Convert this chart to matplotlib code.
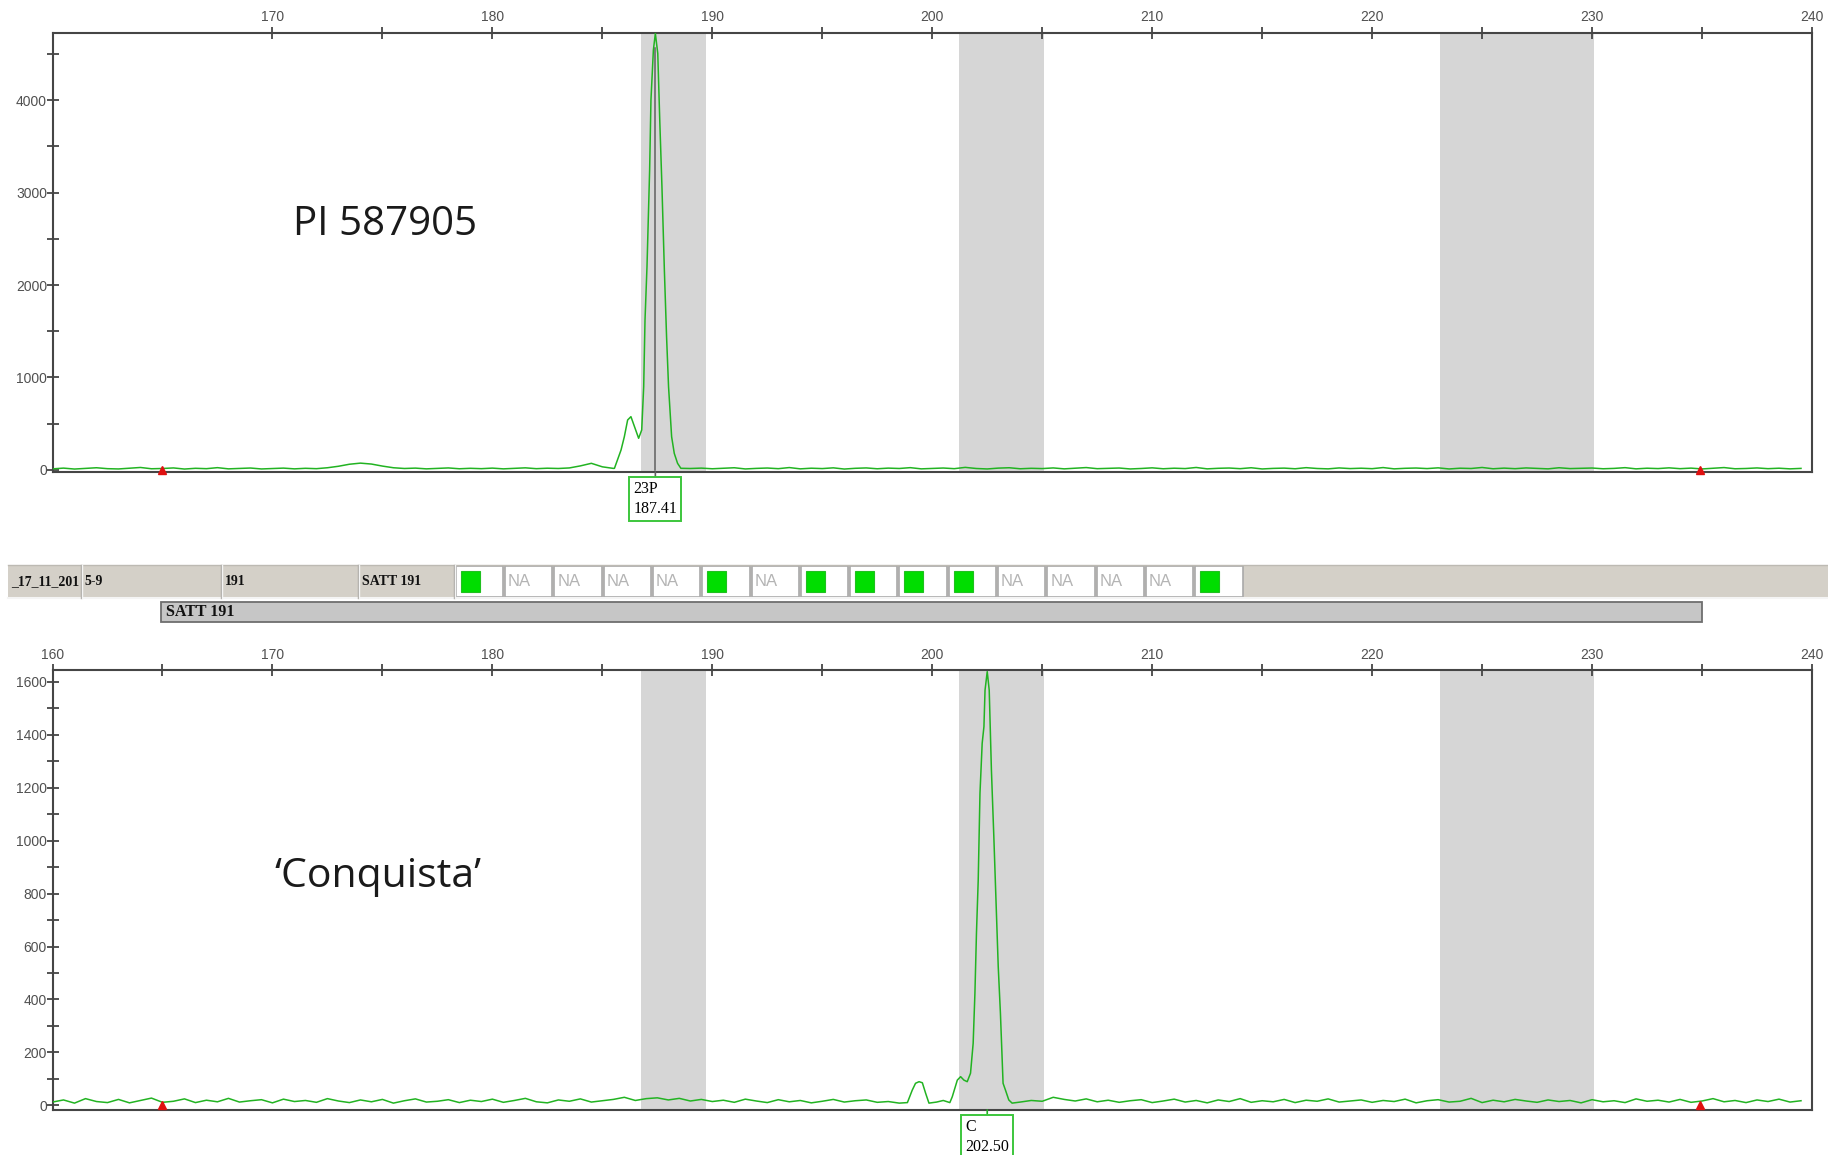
import numpy as np
import matplotlib.pyplot as plt
from matplotlib.patches import Rectangle
from matplotlib.ticker import FixedLocator, NullFormatter

nan = np.nan

# fragment size window (bp) and allele bins
x_start, x_end = 160, 240
bins = [(186.75, 189.7), (201.2, 205.1), (223.1, 230.1)]
size_std = [165.0, 234.9]

# ---- PI 587905 ----
# baseline RFU every 0.5 bp from 160 bp (nan = covered by the peak points)
top_grid_y = [
    10, 18, 8, 15, 22, 12, 9, 17, 25, 11, 14, 20, 8, 16, 12, 23, 10, 15, 19, 9,
    13, 18, 10, 16, 12, 22, 38, 60, 72, 62, 40, 22, 14, 18, 10, 15, 20, 11, 16, 12,
    18, 10, 15, 21, 12, 17, 14, 20, 42, 70, 32, 15, nan, nan, nan, nan, nan, nan, 14, 18,
    11, 16, 22, 9, 15, 19, 12, 24, 10, 17, 13, 21, 8, 16, 20, 11, 18, 14, 23, 10,
    15, 19, 12, 26, 14, 9, 18, 22, 11, 16, 13, 20, 10, 17, 24, 12, 15, 19, 9, 14,
    21, 11, 17, 13, 25, 10, 16, 19, 12, 22, 9, 15, 18, 11, 23, 14, 10, 20, 13, 17,
    12, 24, 10, 16, 19, 13, 21, 9, 17, 14, 25, 11, 18, 12, 20, 15, 10, 22, 13, 16,
    19, 11, 15, 23, 10, 17, 13, 21, 12, 18, 9, 16, 24, 11, 14, 20, 12, 17, 10, 15,
]
top_peak_x = [185.55, 185.85, 186.00, 186.15, 186.30, 186.46, 186.65, 186.79,
              186.88, 186.94, 187.03, 187.15, 187.21, 187.32, 187.41, 187.52,
              187.61, 187.71, 187.82, 187.92, 188.01, 188.15, 188.27, 188.42,
              188.57]
top_peak_y = [16, 214, 358, 539, 575, 467, 341, 431,
              900, 1621, 2198, 3244, 4001, 4542, 4723, 4506,
              3785, 3063, 2162, 1441, 900, 358, 178, 70,
              16]
top_call = ("23P", 187.41)
top_yticks = [0, 1000, 2000, 3000, 4000]
top_ylim = (-24, 4732)

# ---- 'Conquista' ----
bot_grid_y = [
    12, 20, 8, 25, 14, 10, 22, 9, 18, 27, 11, 15, 24, 10, 19, 13, 26, 12, 17, 21,
    9, 23, 14, 18, 11, 25, 16, 10, 20, 13, 22, 8, 17, 24, 12, 15, 21, 10, 19, 14,
    23, 11, 18, 26, 13, 9, 20, 15, 24, 12, 17, 22, 30, 18, 25, 28, 20, 26, 16, 22,
    14, 19, 11, 23, 16, 10, 21, 13, 18, 9, 15, 22, 12, 17, 20, 11, 14, 8, nan, nan,
    nan, nan, nan, nan, nan, nan, nan, nan, 12, 18, 15, 30, 22, 16, 24, 13, 19, 11, 17, 21,
    10, 16, 23, 12, 18, 9, 20, 14, 25, 11, 17, 13, 22, 10, 19, 15, 24, 12, 16, 20,
    11, 18, 14, 23, 9, 17, 21, 12, 15, 26, 10, 19, 13, 22, 16, 11, 20, 14, 18, 9,
    21, 13, 17, 10, 24, 15, 19, 12, 22, 11, 16, 25, 13, 18, 10, 20, 14, 23, 12, 17,
]
bot_peak_x = [198.87, 199.09, 199.24, 199.40, 199.55, 199.70, 199.85, 200.20,
              200.50, 200.80, 200.91, 201.14, 201.29, 201.44, 201.59, 201.74,
              201.86, 201.94, 202.01, 202.09, 202.17, 202.27, 202.35, 202.40,
              202.50, 202.59, 202.69, 202.80, 202.91, 203.00, 203.10, 203.22,
              203.33, 203.48, 203.63]
bot_peak_y = [10, 57, 83, 89, 85, 45, 8, 12,
              18, 10, 32, 95, 108, 95, 89, 121,
              234, 423, 650, 851, 1179, 1368, 1431, 1569,
              1639, 1569, 1267, 1015, 738, 524, 347, 83,
              57, 20, 8]
bot_call = ("C", 202.50)
bot_yticks = [0, 200, 400, 600, 800, 1000, 1200, 1400, 1600]
bot_ylim = (-18, 1644)

# genotype strip
strip_labels = ["_17_11_201", "5-9", "191", "SATT 191"]
calls = ["G", "NA", "NA", "NA", "NA", "G", "NA", "G",
         "G", "G", "G", "NA", "NA", "NA", "NA", "G"]
marker_name = "SATT 191"

GREEN = "#22b322"
AXIS = "#454545"
W, H = 1828, 1155


def rect(l, t, r, b):
    return [l / W, 1 - b / H, (r - l) / W, (b - t) / H]


def trace(grid_y, peak_x, peak_y):
    gy = np.array(grid_y, dtype=float)
    gx = x_start + 0.5 * np.arange(len(gy))
    keep = ~np.isnan(gy)
    x = np.concatenate([gx[keep], peak_x])
    y = np.concatenate([gy[keep], peak_y])
    order = np.argsort(x)
    return x[order], y[order]


def panel(ax, grid_y, peak_x, peak_y, ylim, yticks, xlabels, xminor, call,
          link_color):
    for lo, hi in bins:
        ax.axvspan(lo, hi, color="#d6d6d6", lw=0, zorder=0)
    x, y = trace(grid_y, peak_x, peak_y)
    ax.plot(x, y, color=GREEN, lw=1.1, zorder=3)
    ax.plot(size_std, [0] * len(size_std), ls="none", marker="^", ms=6,
            color="#e01010", clip_on=False, zorder=4)
    ax.set_xlim(x_start, x_end)
    ax.set_ylim(*ylim)

    ax.xaxis.tick_top()
    ax.xaxis.set_major_locator(FixedLocator(xlabels))
    ax.xaxis.set_minor_locator(FixedLocator(xminor))
    ax.yaxis.set_major_locator(FixedLocator(yticks))
    step = yticks[1] - yticks[0]
    ax.yaxis.set_minor_locator(FixedLocator([v + step / 2 for v in yticks]))
    ax.xaxis.set_minor_formatter(NullFormatter())
    ax.yaxis.set_minor_formatter(NullFormatter())
    for axis in ("x", "y"):
        ax.tick_params(axis=axis, which="both", direction="inout", length=8,
                       width=1.3, color=AXIS, labelsize=10, labelcolor="#505050",
                       pad=2 if axis == "x" else 0)
    for lab in ax.get_xticklabels() + ax.get_yticklabels():
        lab.set_fontfamily("Liberation Sans")
    for s in ax.spines.values():
        s.set_color(AXIS)
        s.set_linewidth(1.5)

    name, size = call
    ax.annotate(f"{name}\n{size:.2f}", xy=(size, 0),
                xycoords=("data", "axes fraction"), xytext=(0, -9),
                textcoords="offset pixels", ha="center", va="top",
                fontsize=11.5, family="Liberation Serif", linespacing=1.3,
                multialignment="left", annotation_clip=False,
                bbox=dict(boxstyle="square,pad=0.25", fc="white", ec="#3cc63c", lw=1.4),
                arrowprops=dict(arrowstyle="-", color=link_color, lw=1.2,
                                shrinkA=0, shrinkB=0))


fig = plt.figure(figsize=(W / 100, H / 100), dpi=100)

ax_top = fig.add_axes(rect(52.5, 32.6, 1812, 472))
panel(ax_top, top_grid_y, top_peak_x, top_peak_y, top_ylim, top_yticks,
      [170, 180, 190, 200, 210, 220, 230, 240],
      [175, 185, 195, 205, 215, 225, 235], top_call, "#606060")
# called-peak cursor
ax_top.plot([top_call[1]] * 2, [0, 4560], color="#606060", lw=1.1, zorder=2)

ax_bot = fig.add_axes(rect(52.5, 670.3, 1812, 1110))
panel(ax_bot, bot_grid_y, bot_peak_x, bot_peak_y, bot_ylim, bot_yticks,
      [160, 170, 180, 190, 200, 210, 220, 230, 240],
      [165, 175, 185, 195, 205, 215, 225, 235], bot_call, GREEN)

fig.text(293 / W, 1 - 235 / H, "PI 587905", family="Open Sans", fontsize=29,
         va="baseline", color="#1a1a1a")
fig.text(274 / W, 1 - 887 / H, "\u2018Conquista\u2019", family="Open Sans",
         fontsize=29.5, va="baseline", color="#1a1a1a")

# genotype strip drawn in pixel coordinates
ov = fig.add_axes([0, 0, 1, 1])
ov.set_xlim(0, W)
ov.set_ylim(H, 0)
ov.axis("off")
ov.set_zorder(-1)

s_top, s_bot = 565, 598
s_mid = (s_top + s_bot) / 2
ov.add_patch(Rectangle((8, s_top), W - 8, s_bot - s_top, fc="#d4d0c8", ec="none"))
ov.plot([8, W], [s_top, s_top], color="#bdbab3", lw=1)
ov.plot([8, W], [s_bot, s_bot], color="#f4f4f4", lw=1.5)
edges = [8, 81.6, 221.5, 359, 454.7]
for i, lab in enumerate(strip_labels):
    ov.text(edges[i] + 3, s_mid, lab, family="Liberation Serif",
            fontweight="bold", fontsize=10, va="center", color="#111111")
    ov.plot([edges[i + 1] - 1] * 2, [s_top, s_bot], color="#a8a5a0", lw=1)
    ov.plot([edges[i + 1]] * 2, [s_top, s_bot], color="#f4f4f4", lw=1)

cell_w = 49.3
for j, c in enumerate(calls):
    x0 = edges[-1] + j * cell_w
    ov.add_patch(Rectangle((x0 + 1, s_top + 1), cell_w - 2, s_bot - s_top - 2,
                           fc="white", ec="#a9a9a9", lw=1.2))
    if c == "G":
        ov.add_patch(Rectangle((x0 + 6, s_top + 6), 19, s_bot - s_top - 12,
                               fc="#00dd00", ec="#20c020", lw=0.8))
    else:
        ov.text(x0 + 4, s_mid, "NA", family="Liberation Sans", fontsize=12,
                color="#b4b4b4", va="center")

ov.add_patch(Rectangle((161, 601.5), 1702 - 161, 20, fc="#c6c6c6",
                       ec="#6e6e6e", lw=1.3))
ov.text(166, 611.5, marker_name, family="Liberation Serif", fontweight="bold",
        fontsize=11.5, va="center", color="#111111")

fig.savefig("out.png", dpi=100, facecolor="white")
